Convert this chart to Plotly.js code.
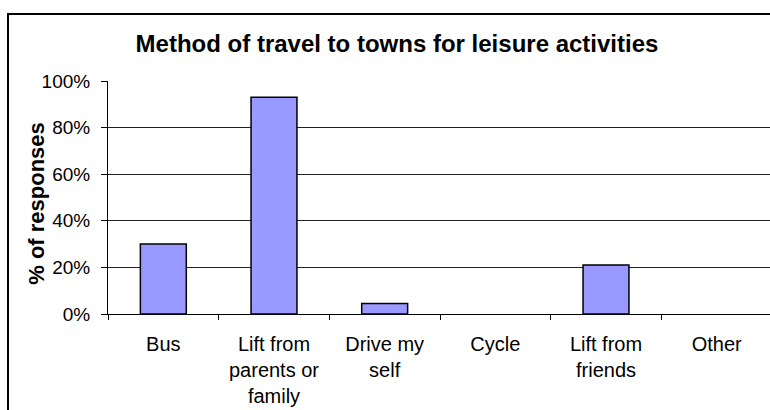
<!DOCTYPE html>
<html>
<head>
<meta charset="utf-8">
<script src="https://cdn.plot.ly/plotly-3.0.1.min.js"></script>
<style>
  html, body { margin: 0; padding: 0; overflow: hidden; background: #fff; }
  #chart { position: absolute; left: 0; top: 0; width: 794px; height: 420px; }
  #frame { position: absolute; left: 7px; top: 13px; width: 900px; height: 600px;
           border: 2px solid #000; pointer-events: none; }
</style>
</head>
<body>
<div id="chart"></div>
<div id="frame"></div>
<script>
const categories = ["Bus", "Lift from<br>parents or<br>family", "Drive my<br>self", "Cycle", "Lift from<br>friends", "Other"];
const values = [0.30, 0.93, 0.045, 0, 0.21, 0];
const yTickVals = [0, 0.2, 0.4, 0.6, 0.8, 1.0];
const yTickText = ["0%", "20%", "40%", "60%", "80%", "100%"];
const chartTitle = "Method of travel to towns for leisure activities";
const yTitle = "% of responses";

const trace = {
  type: "bar",
  x: categories,
  y: values,
  marker: {
    color: "#9999FF",
    line: { color: "#000000", width: values.map(v => (v > 0 ? 1.5 : 0)) }
  },
  hoverinfo: "none"
};

const layout = {
  width: 794,
  height: 420,
  margin: { l: 108, r: 22, t: 81, b: 106 },
  paper_bgcolor: "#ffffff",
  plot_bgcolor: "#ffffff",
  showlegend: false,
  bargap: 0.585,
  font: { family: "Liberation Sans, Arial, sans-serif", color: "#000000" },
  title: {
    text: "<b>" + chartTitle + "</b>",
    font: { family: "Liberation Sans, Arial, sans-serif", size: 24, color: "#000" },
    x: 0.5, xanchor: "center",
    y: 1 - 44 / 420, yanchor: "middle", yref: "container"
  },
  xaxis: {
    type: "category",
    showgrid: false,
    showline: true, linecolor: "#000", linewidth: 1,
    ticks: "outside", ticklen: 5, tickcolor: "#000", tickwidth: 1,
    tickson: "boundaries",
    tickfont: { size: 20, color: "#000" },
    ticklabelstandoff: 12,
    fixedrange: true
  },
  yaxis: {
    range: [0, 1],
    tickvals: yTickVals,
    ticktext: yTickText,
    showgrid: true, gridcolor: "#222", gridwidth: 1,
    showline: true, linecolor: "#000", linewidth: 1,
    ticks: "outside", ticklen: 6, tickcolor: "#000", tickwidth: 1,
    tickfont: { size: 19, color: "#000" },
    ticklabelstandoff: 7,
    zeroline: false,
    fixedrange: true
  },
  annotations: [{
    text: "<b>" + yTitle + "</b>",
    textangle: -90,
    xref: "paper", yref: "paper",
    x: (37 - 108) / 664, y: 0.473,
    xanchor: "center", yanchor: "middle",
    showarrow: false,
    font: { family: "Liberation Sans, Arial, sans-serif", size: 22, color: "#000" }
  }]
};

Plotly.newPlot("chart", [trace], layout, { staticPlot: true, displayModeBar: false });
</script>
</body>
</html>
